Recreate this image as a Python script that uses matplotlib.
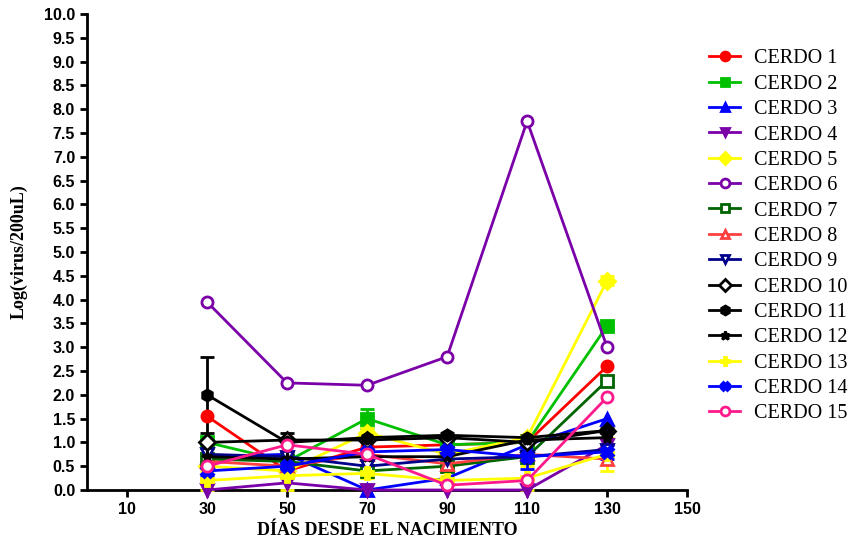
import numpy as np
import matplotlib
matplotlib.use("Agg")
import matplotlib.pyplot as plt

days = [30, 50, 70, 90, 110, 130]
names = ["CERDO %d" % i for i in range(1, 16)]

c1 = [1.55, 0.40, 0.90, 0.95, 1.00, 2.60]
c2 = [1.00, 0.60, 1.50, 0.95, 1.00, 3.45]
c3 = [0.70, 0.75, 0.00, 0.25, 0.95, 1.50]
c4 = [0.00, 0.15, 0.00, 0.00, 0.00, 0.95]
c5 = [0.50, 0.40, 1.20, 0.75, 1.10, 4.40]
c6 = [3.95, 2.25, 2.20, 2.80, 7.75, 3.00]
c7 = [0.65, 0.60, 0.40, 0.50, 0.70, 2.30]
c8 = [0.60, 0.50, 0.75, 0.55, 0.75, 0.65]
c9 = [0.75, 0.70, 0.50, 0.65, 0.70, 0.85]
c10 = [1.00, 1.05, 1.05, 1.10, 1.00, 1.25]
c11 = [2.00, 1.00, 1.10, 1.15, 1.10, 1.25]
c12 = [0.70, 0.65, 0.70, 0.70, 1.05, 1.10]
c13 = [0.20, 0.30, 0.35, 0.20, 0.25, 0.75]
c14 = [0.40, 0.50, 0.80, 0.85, 0.70, 0.80]
c15 = [0.50, 0.95, 0.75, 0.10, 0.20, 1.95]

# error bars (sem), mostly small
e2 = [0.05, 0.05, 0.20, 0.05, 0.05, 0.05]
e5 = [0.05, 0.05, 0.10, 0.05, 0.05, 0.10]
e11 = [0.80, 0.20, 0.05, 0.05, 0.05, 0.05]
e13 = [0.20, 0.30, 0.10, 0.10, 0.25, 0.35]
e14 = [0.10, 0.10, 0.05, 0.10, 0.25, 0.15]

series = [c1, c2, c3, c4, c5, c6, c7, c8, c9, c10, c11, c12, c13, c14, c15]
errs = {1: e2, 4: e5, 10: e11, 12: e13, 13: e14}

colors = ["#ff0000", "#00c000", "#0000ff", "#7a00a8", "#ffff00", "#7a00a8",
          "#006400", "#ff4040", "#00008b", "#000000", "#000000", "#000000",
          "#ffff00", "#0000ff", "#ff1a8c"]
markers = ["o", "s", "^", "v", "D", "o", "s", "^", "v", "D", "h", "*",
           "P", "X", "o"]
open_m = [5, 6, 7, 8, 9, 14]

fig = plt.figure(figsize=(8.5, 5.43), dpi=100)
ax = fig.add_axes([0.1024, 0.0976, 0.706, 0.8766])

for i, (y, name) in enumerate(zip(series, names)):
    col = colors[i]
    fc = "white" if i in open_m else col
    yerr = errs.get(i)
    ax.errorbar(days, y, yerr=yerr, color=col, marker=markers[i],
                markersize=8, mfc=fc, mec=col, mew=2, lw=2,
                capsize=5, capthick=2, elinewidth=2, label=name,
                clip_on=False, zorder=3)

ax.set_xlim(0, 150)
ax.set_ylim(0, 10)
ax.set_xticks(np.arange(10, 151, 20))
ax.set_yticks(np.arange(0, 10.01, 0.5))
ax.set_yticklabels(["%.1f" % v for v in np.arange(0, 10.01, 0.5)])
for s in ["top", "right"]:
    ax.spines[s].set_visible(False)
for s in ["left", "bottom"]:
    ax.spines[s].set_linewidth(2)
ax.tick_params(width=2, length=5, direction="out")
for lab in ax.get_xticklabels() + ax.get_yticklabels():
    lab.set_fontfamily("Liberation Sans")
    lab.set_fontweight("bold")
    lab.set_fontsize(11.5)

ax.set_xlabel("DÍAS DESDE EL NACIMIENTO", fontfamily="Liberation Serif",
              fontweight="bold", fontsize=13, labelpad=4)
ax.set_ylabel("Log(virus/200uL)", fontfamily="Liberation Serif",
              fontweight="bold", fontsize=13, labelpad=12)

handles, labels = ax.get_legend_handles_labels()
handles = [h[0] for h in handles]
fig.legend(handles, labels, loc="upper left", bbox_to_anchor=(0.818, 0.935),
           frameon=False, prop={"family": "Liberation Serif", "size": 14.5},
           handlelength=1.5, labelspacing=0.31, handletextpad=0.7,
           borderpad=0.2, markerscale=0.8)

fig.savefig("out.png", dpi=100)
